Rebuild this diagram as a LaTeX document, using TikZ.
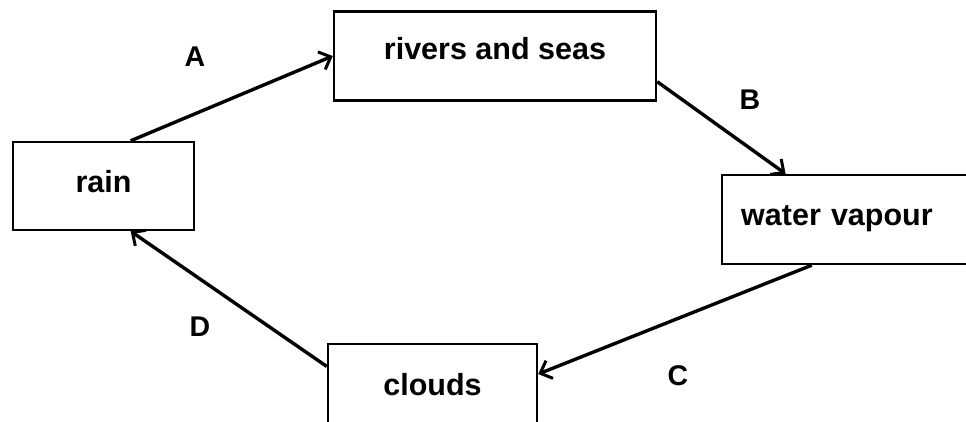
\documentclass[tikz,border=0pt]{standalone}
\usepackage{fontspec}
\setmainfont{Liberation Sans}
\usetikzlibrary{arrows.meta}
\begin{document}
\begin{tikzpicture}[x=1pt,y=-1pt,
  stage/.style={draw=black, line width=2.4pt, rectangle, inner sep=0pt,
    text height=22pt, text depth=6pt,
    font=\fontsize{30.5}{36}\selectfont\bfseries},
  flow/.style={line width=3.4pt, -{Straight Barb[length=10pt,width=19pt,line width=3pt]}},
  tag/.style={font=\fontsize{28.5}{33}\selectfont\bfseries, inner sep=0pt}]
  \useasboundingbox (0,0) rectangle (966,421);
  % the four stages of the water cycle
  \node[stage, minimum width=181pt, minimum height=88pt, text depth=10pt] (rain) at (103.5,186) {rain};
  \node[stage, minimum width=322pt, minimum height=89pt, text depth=16pt] (rivers) at (495,56) {rivers and seas};
  \node[stage, anchor=west, minimum height=89pt, text width=210pt, align=left,
        inner xsep=19pt, text depth=11pt] (vapour) at (721,219.5) {water vapour};
  \node[stage, minimum width=209pt, minimum height=86pt] (clouds) at (432.5,387) {clouds};
  % connecting arrows
  \draw[flow] (rain.59) -- (rivers.west);
  \draw[flow] (rivers.-9.5) -- (vapour.143.4);
  \draw[flow] (vapour.-127.4) -- (clouds.7.7);
  \draw[flow] (clouds.169.2) -- (rain.-59.5);
  % arrow labels
  \node[tag] (lA) at (195,57) {A};
  \node[tag] (lB) at (750,100) {B};
  \node[tag] (lC) at (678,376) {C};
  \node[tag] (lD) at (200,327) {D};
\end{tikzpicture}
\end{document}
